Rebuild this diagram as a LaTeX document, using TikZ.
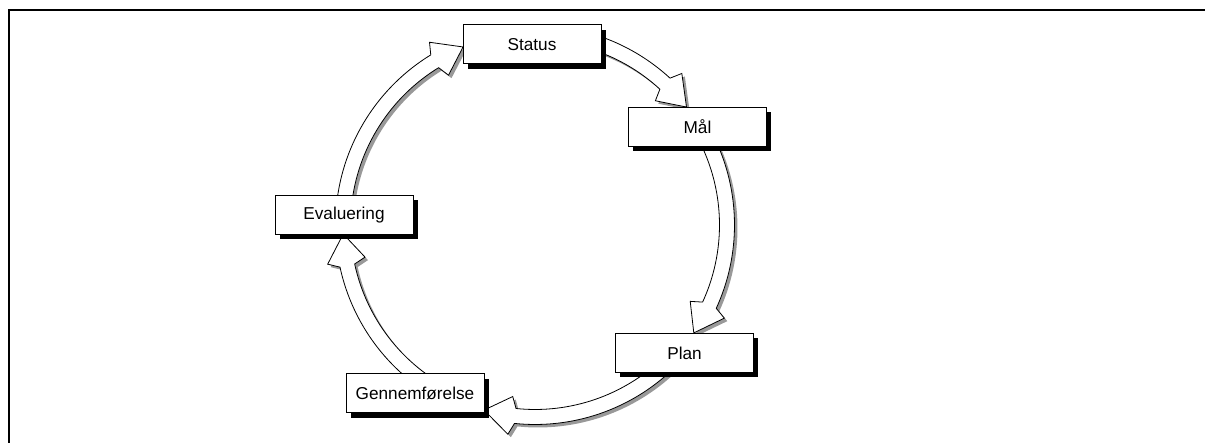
\documentclass[tikz,border=0pt]{standalone}
\usepackage{fontspec}
\setmainfont{Liberation Sans}
\usetikzlibrary{shadows}

\tikzset{
  stage/.style={draw, fill=white, line width=0.5pt, minimum width=69pt, minimum height=19.5pt,
    inner sep=0pt, font=\fontsize{8.6}{10}\selectfont,
    drop shadow={shadow xshift=2.3pt, shadow yshift=-2.5pt, fill=black, opacity=1}},
  flow/.style={draw, fill=white, line width=0.4pt},
  flowshadow/.style={fill=black!40, draw=none}
}
% hollow curved arrow on the cycle circle, from angle #2 down to angle #3
\newcommand{\cyclearrow}[3][]{%
  \path[#1] (#2:199.5) arc[start angle=#2, end angle=#3+9.5, radius=199.5]
    -- ({#3+8}:211) -- (#3:192) -- ({#3+8}:173) -- ({#3+9.5}:184.5)
    arc[start angle=#3+9.5, end angle=#2, radius=184.5] -- cycle;}

\begin{document}
\begin{tikzpicture}[x=0.5pt, y=0.5pt]
  \useasboundingbox (0,0) rectangle (1205,443);
  \clip (0,0) rectangle (1205,443);
  \draw[line width=1pt] (9.2,-10) -- (9.2,432.8) -- (1215,432.8);

  % arrows round the cycle
  \begin{scope}[shift={(535,218)}]
    \foreach \a/\b in {72/37.9, 26/-34.2, -46/-105.4, 236/182.7, 174/112} {
      \begin{scope}[shift={(3,-3)}]
        \cyclearrow[flowshadow]{\a}{\b}
      \end{scope}
      \cyclearrow[flow]{\a}{\b}
    }
  \end{scope}

  % stages
  \node[stage] (status) at (532,398.5) {Status};
  \node[stage] (maal) at (697.5,316) {Mål};
  \node[stage] (plan) at (684.5,90) {Plan};
  \node[stage] (gennem) at (415,49.5) {Gennemførelse};
  \node[stage] (eval) at (344,228) {Evaluering};
\end{tikzpicture}
\end{document}
